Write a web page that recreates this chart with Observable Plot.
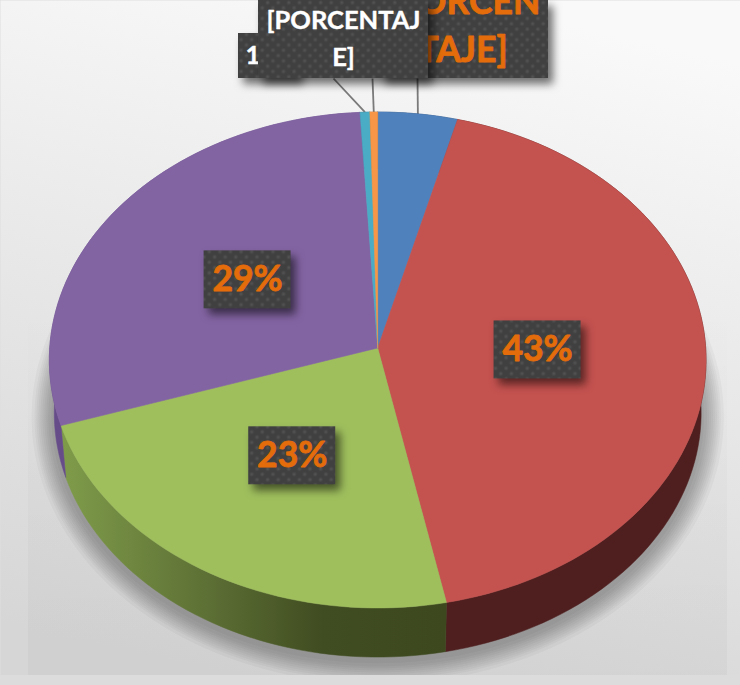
<!DOCTYPE html>
<html>
<head>
<meta charset="utf-8">
<script src="https://cdn.jsdelivr.net/npm/d3@7"></script>
<script src="https://cdn.jsdelivr.net/npm/@observablehq/plot@0.6"></script>
<style>
html,body{margin:0;padding:0;overflow:hidden;background:#ddd}
svg{display:block}
</style>
</head>
<body>
<div id="chart"></div>
<script>
// ---- data ----
const sliceNames = ["A", "B", "C", "D", "E", "F"];
const sliceValues = [4.1, 42.7, 23.2, 29.1, 0.5, 0.4];
const sliceColors = ["#4f81bd", "#c4524f", "#9fbf5d", "#8364a3", "#4bacc6", "#f79646"];
const sideColors = ["#2c4a6e", "#4f1f1f", "url(#greenSide)", "#674c8a", "#2c6a7c", "#a05c22"];
const innerLabels = ["", "43%", "23%", "29%", "", ""];

// ---- pie projection ----
const W = 740, H = 685;
const cxPx = 377.2, cyPx = 347.5, a = 328, b = 247.4, k = 0.0484;
const depthScale = 0.985, depthPx = 53;
const LIGHT = "#ffffff", ORANGE = "#e46c0a", BOX = "url(#dots)";
const FONT = "Lato, 'Open Sans', sans-serif";

const toX = px => (px - cxPx) / a;
const toY = py => (cyPx - py) / b;
const rim = f => {
  const t = f * 2 * Math.PI, u = Math.sin(t), v = Math.cos(t), w = 1 + k * v;
  return {x: u / w, y: v / w};
};
const lower = p => ({x: p.x * depthScale, y: p.y * depthScale - depthPx / b});

let acc = 0;
const slices = sliceValues.map((value, i) => {
  const start = acc / 100; acc += value; const end = acc / 100;
  return {name: sliceNames[i], value, start, end, mid: (start + end) / 2,
          color: sliceColors[i], side: sideColors[i], label: innerLabels[i]};
});
const arcOf = s => d3.range(0, 1.0001, 1 / Math.max(2, Math.ceil(s.value * 2)))
  .map(t => rim(s.start + (s.end - s.start) * t));
const topFace = s => [{x: 0, y: 0}, ...arcOf(s), {x: 0, y: 0}];
const sideWall = s => { const r = arcOf(s); return [...r, ...r.slice().reverse().map(p => lower(p)), r[0]]; };
const wholeRim = d3.range(0, 1.001, 0.005).map(f => rim(f));

// soft floor shadow: stacked, slightly growing copies of the lower rim
const shadowSpreads = [3, 6, 8, 10, 12, 14, 16, 18, 20, 23];
const shadowLayers = shadowSpreads.map(t =>
  wholeRim.map(p => ({
    x: p.x * depthScale * (1 + t / a),
    y: p.y * depthScale * (1 + t / b) - (depthPx + 3) / b
  })));

// inner labels sit half way out along the slice bisector
const labelR = 0.49, labelDX = -1 / a, labelDY = 1.5 / b;
const inner = slices.filter(s => s.label).map(s => {
  const p = rim(s.mid);
  return {x: p.x * labelR + labelDX, y: p.y * labelR + labelDY, text: s.label};
});
const boxHalfW = 43.5 / a, boxHalfH = 29 / b;

// outer labels, clipped by the top of the picture
const outerBoxes = [
  {id: "orange", x1: toX(380), x2: toX(548), y1: toY(0), y2: toY(78)},
  {id: "one",    x1: toX(238), x2: toX(298), y1: toY(33), y2: toY(78)},
  {id: "white",  x1: toX(258), x2: toX(428), y1: toY(0), y2: toY(78)}
];
const leaders = [
  {from: rim(slices[0].mid), to: {x: toX(417), y: toY(78)}},
  {from: rim(slices[5].mid), to: {x: toX(372), y: toY(78)}},
  {from: rim(slices[4].mid), to: {x: toX(333), y: toY(78)}}
];

const rectShadow = "drop-shadow(5px 6px 4px rgba(0,0,0,.55))";
const sideMarks = slices.map(s => Plot.line(sideWall(s), {x: "x", y: "y", fill: s.side, stroke: s.side, strokeWidth: 0.5}));
const topMarks = slices.map(s => Plot.line(topFace(s), {x: "x", y: "y", fill: s.color, stroke: s.color, strokeWidth: 0.5}));
const shadowMarks = shadowLayers.map(layer => Plot.line(layer, {x: "x", y: "y", fill: "#000000", stroke: "#000000", strokeWidth: 0, fillOpacity: 0.032, strokeOpacity: 0}));

const defs = () => {
  const g = document.createElementNS("http://www.w3.org/2000/svg", "g");
  g.innerHTML = `<defs>
    <linearGradient id="bg" x1="0.62" y1="0" x2="0.38" y2="1">
      <stop offset="0" stop-color="#f9f9f9"/><stop offset="0.45" stop-color="#e9e9e9"/><stop offset="1" stop-color="#d6d6d6"/>
    </linearGradient>
    <linearGradient id="plane" x1="0" y1="0" x2="0" y2="1">
      <stop offset="0" stop-color="#000" stop-opacity="0"/><stop offset="0.55" stop-color="#000" stop-opacity="0.02"/><stop offset="1" stop-color="#000" stop-opacity="0.03"/>
    </linearGradient>
    <linearGradient id="greenSide" x1="0" y1="0" x2="1" y2="0">
      <stop offset="0" stop-color="#7f9c4a"/><stop offset="0.36" stop-color="#5f7236"/><stop offset="0.68" stop-color="#404c21"/><stop offset="1" stop-color="#3d481f"/>
    </linearGradient>
    <radialGradient id="dotG"><stop offset="0" stop-color="#565656"/><stop offset="1" stop-color="#404040"/></radialGradient>
    <pattern id="dots" width="10.6" height="10.6" patternUnits="userSpaceOnUse">
      <rect width="10.6" height="10.6" fill="#404040"/>
      <circle cx="2.6" cy="2.6" r="2.6" fill="url(#dotG)"/><circle cx="7.9" cy="7.9" r="2.6" fill="url(#dotG)"/>
    </pattern>
  </defs>`;
  return g;
};

const bigText = {fill: ORANGE, stroke: ORANGE, strokeWidth: 0.8, fontSize: 35.5, fontWeight: 700, fontFamily: FONT};
const smallText = {fill: LIGHT, stroke: LIGHT, strokeWidth: 0.4, fontSize: 25.5, fontWeight: 700, fontFamily: FONT};

const chart = Plot.plot({
  width: W, height: H,
  marginTop: 0, marginRight: 0, marginBottom: 0, marginLeft: 0,
  x: {domain: [-cxPx / a, (W - cxPx) / a], range: [0, W], axis: null},
  y: {domain: [(cyPx - H) / b, cyPx / b], range: [H, 0], axis: null},
  style: {background: "#dedede"},
  marks: [
    defs,
    Plot.frame({fill: "url(#bg)", stroke: "none"}),
    Plot.rect([{x1: toX(28), x2: toX(727), y1: toY(300), y2: toY(675)}],
      {x1: "x1", x2: "x2", y1: "y1", y2: "y2", fill: "url(#plane)"}),
    ...shadowMarks,
    // bottom strip below the shadow plane
    Plot.rect([{x1: toX(0), x2: toX(W), y1: toY(675), y2: toY(H)}],
      {x1: "x1", x2: "x2", y1: "y1", y2: "y2", fill: "#dcdcdc"}),
    // leader lines
    Plot.link(leaders, {x1: d => d.from.x, y1: d => d.from.y, x2: d => d.to.x, y2: d => d.to.y,
      stroke: "#7a7a7a", strokeWidth: 1.8}),
    ...sideMarks,
    ...topMarks,
    // inner percentage labels
    Plot.rect(inner, {x1: d => d.x - boxHalfW, x2: d => d.x + boxHalfW, y1: d => d.y - boxHalfH, y2: d => d.y + boxHalfH,
      fill: BOX, imageFilter: rectShadow}),
    Plot.text(inner, {x: "x", y: "y", text: "text", ...bigText}),
    // outer labels, stacked
    Plot.rect([outerBoxes[0]], {x1: "x1", x2: "x2", y1: "y1", y2: "y2", fill: BOX, imageFilter: rectShadow}),
    Plot.text(["[PORCEN\nTAJE]"], {x: toX(462), y: toY(22), ...bigText, lineHeight: 1.35}),
    Plot.rect([outerBoxes[1]], {x1: "x1", x2: "x2", y1: "y1", y2: "y2", fill: BOX, imageFilter: rectShadow}),
    Plot.text(["1"], {x: toX(252.5), y: toY(55), ...smallText}),
    Plot.rect([outerBoxes[2]], {x1: "x1", x2: "x2", y1: "y1", y2: "y2", fill: BOX, imageFilter: rectShadow}),
    Plot.text(["[PORCENTAJ\nE]"], {x: toX(343), y: toY(35), ...smallText, lineHeight: 1.46})
  ]
});
document.getElementById("chart").appendChild(chart);
</script>
</body>
</html>
